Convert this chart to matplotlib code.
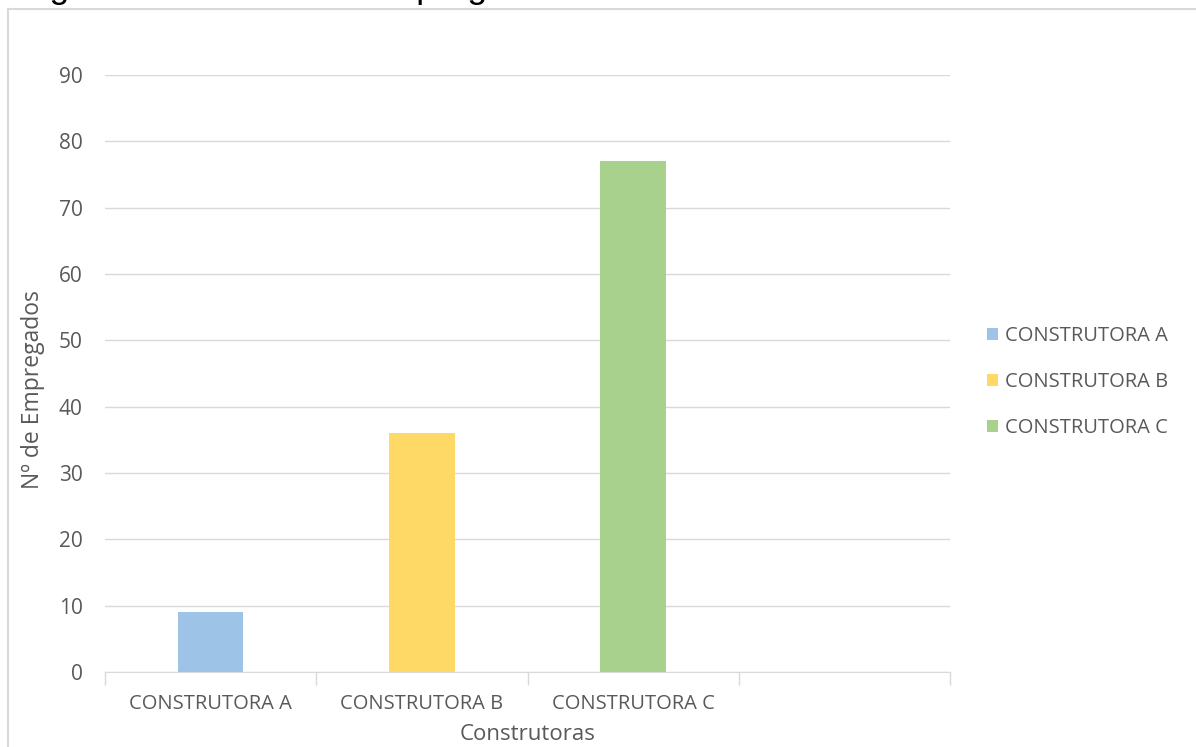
import matplotlib.pyplot as plt
import numpy as np
from matplotlib.lines import Line2D

categories = ['CONSTRUTORA A', 'CONSTRUTORA B', 'CONSTRUTORA C']
values = [9, 36, 77]
colors = ['#9dc3e6', '#ffd966', '#a9d18e']

plt.rcParams['font.family'] = ['Open Sans', 'DejaVu Sans']
grey = '#595959'

fig = plt.figure(figsize=(11.96, 7.47), dpi=100)
ax = fig.add_axes([105 / 1196, 1 - 672 / 747, 845 / 1196, 597 / 747])

x = np.arange(len(categories))
for i, (cat, val, col) in enumerate(zip(categories, values, colors)):
    ax.bar(x[i], val, width=0.31, color=col, label=cat, zorder=3)

ax.set_xlim(-0.5, 3.5)
ax.set_ylim(0, 90)
ax.set_yticks(np.arange(0, 91, 10))
ax.set_xticks(x)
ax.set_xticklabels(categories)
ax.set_xticks(np.arange(-0.5, 3.6, 1), minor=True)
ax.tick_params(axis='x', which='major', length=0, pad=16, labelsize=14.5, labelcolor=grey)
ax.tick_params(axis='x', which='minor', length=9, color='#d9d9d9', width=1)
ax.tick_params(axis='y', length=0, pad=16, labelsize=15, labelcolor=grey)
ax.grid(axis='y', color='#d9d9d9', linewidth=1, zorder=0)
for s in ['top', 'right', 'left']:
    ax.spines[s].set_visible(False)
ax.spines['bottom'].set_color('#d9d9d9')

ax.set_ylabel('Nº de Empregados', fontsize=16.5, color=grey, va='center')
ax.yaxis.set_label_coords((33 - 105) / 845, (672 - 390) / 597)
ax.set_xlabel('Construtoras', fontsize=16, color=grey, va='center')
ax.xaxis.set_label_coords(0.5, (672 - 735) / 597)

ax.legend(loc='center left', bbox_to_anchor=((987 - 105) / 845, (672 - 382) / 597), frameon=False,
          fontsize=14.5, labelcolor=grey, handlelength=0.55, handleheight=0.55,
          handletextpad=0.35, labelspacing=1.3, borderaxespad=0, borderpad=0)

# outer chart border (left and top edges visible)
fig.add_artist(Line2D([8 / 1196, 8 / 1196], [0, 1 - 9 / 747], color='#d9d9d9', lw=1.5))
fig.add_artist(Line2D([8 / 1196, 1], [1 - 9 / 747, 1 - 9 / 747], color='#d9d9d9', lw=1.5))

# caption cut off at the top of the image
fig.text(20 / 1196, 1 + 2 / 747, 'Figura 1 - Número de empregados', fontsize=25.5,
         family='Liberation Sans', color='black', va='baseline', ha='left')

fig.savefig('out.png', dpi=100)
